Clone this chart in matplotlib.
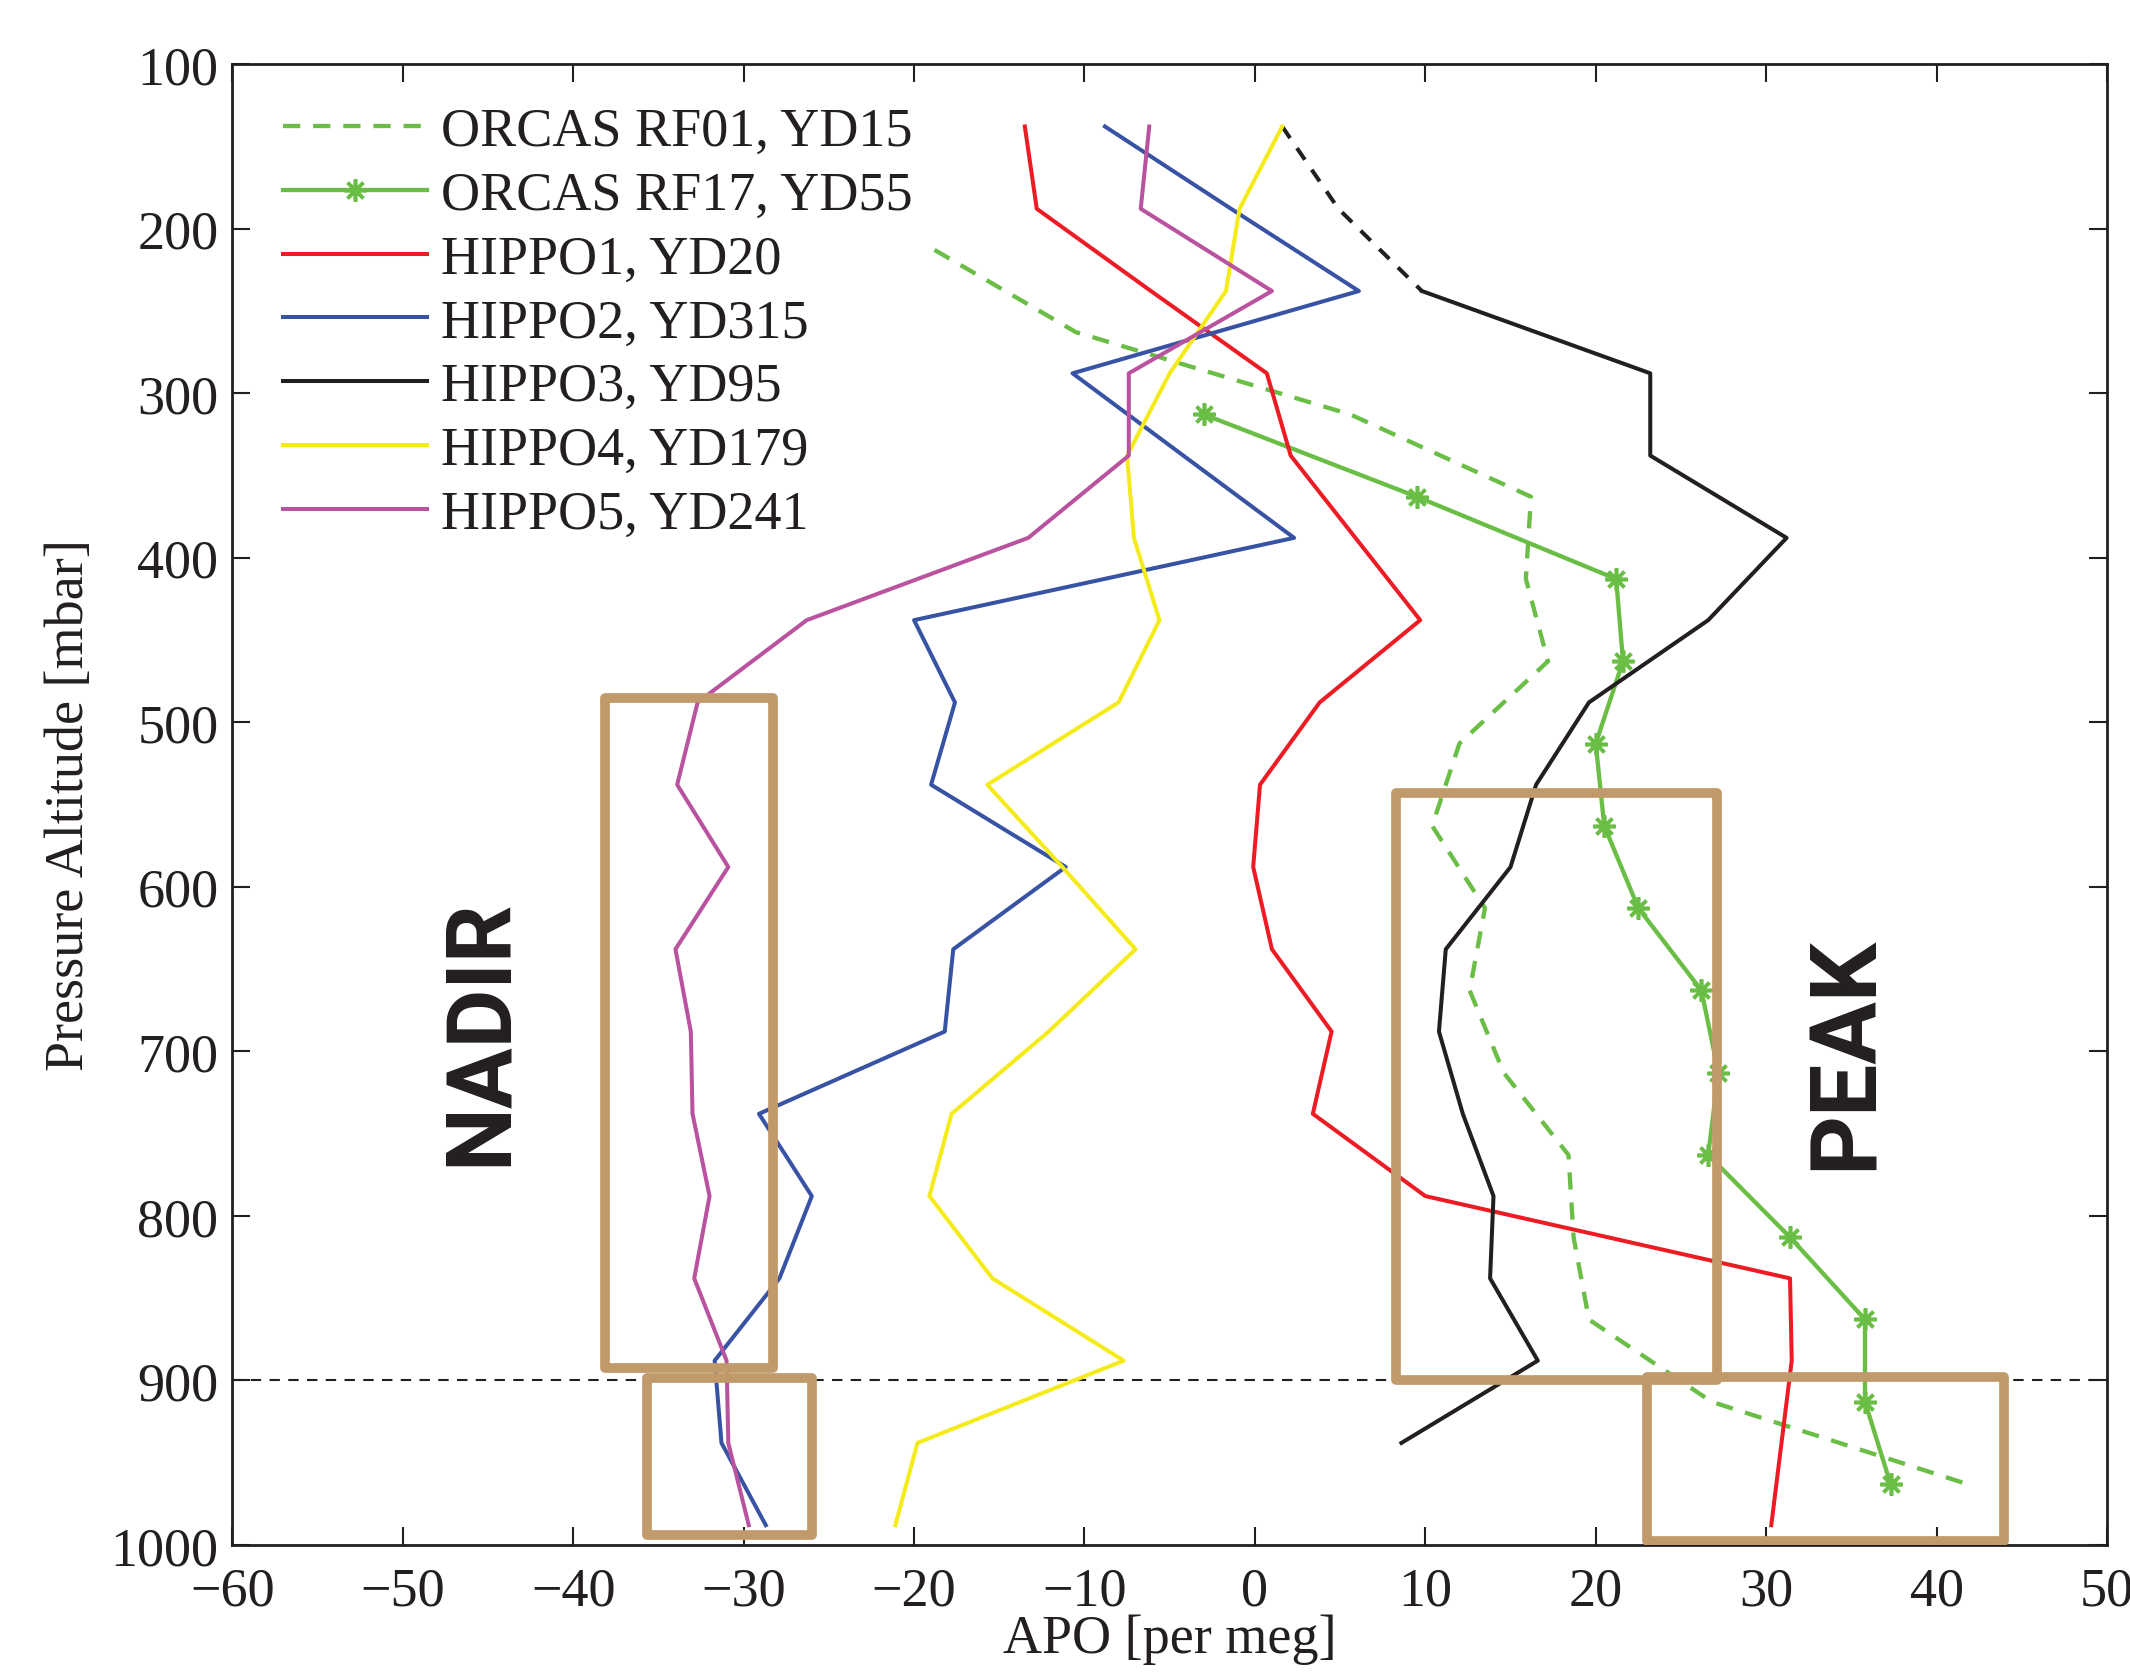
import matplotlib.pyplot as plt
from matplotlib.patches import Rectangle

plt.rcParams['font.family'] = ['Liberation Serif', 'DejaVu Serif']

# --- pressure levels [mbar] ---
p_hippo = [138, 188, 238, 288, 338, 388, 438, 488, 538, 588,
           638, 688, 738, 788, 838, 888, 938, 988]
p_hippo3 = [238, 288, 338, 388, 438, 488, 538, 588, 638, 688,
            738, 788, 838, 888, 938]
p_hippo3_top = [138, 188, 238]
p_rf01 = [213, 263, 313, 363, 413, 463, 513, 563, 613, 663,
          713, 763, 813, 863, 913, 963]
p_rf17 = [313, 363, 413, 463, 513, 563, 613, 663, 713, 763,
          813, 863, 913, 963]

# --- APO [per meg] ---
apo_rf01 = [-18.8, -10.5, 5.6, 16.2, 15.9, 17.2, 12.0, 10.4, 13.5, 12.6,
            14.6, 18.4, 18.7, 19.6, 26.8, 41.8]
apo_rf17 = [-3.0, 9.5, 21.2, 21.6, 20.0, 20.5, 22.5, 26.2, 27.2, 26.6,
            31.4, 35.8, 35.8, 37.3]
apo_hippo1 = [-13.5, -12.8, -6.1, 0.7, 2.1, 5.9, 9.7, 3.8, 0.3, -0.1,
              1.0, 4.5, 3.4, 10.0, 31.4, 31.5, 30.9, 30.3]
apo_hippo2 = [-8.8, -1.4, 6.1, -10.7, -4.2, 2.3, -20.0, -17.6, -19.0, -11.1,
              -17.7, -18.2, -29.1, -26.0, -27.9, -31.7, -31.3, -28.7]
apo_hippo3 = [9.8, 23.2, 23.2, 31.2, 26.6, 19.6, 16.5, 15.0, 11.2, 10.8,
              12.2, 14.0, 13.8, 16.6, 8.6]
apo_hippo3_top = [1.6, 4.9, 9.8]
apo_hippo4 = [1.6, -0.9, -1.7, -5.0, -7.5, -7.1, -5.6, -8.0, -15.7, -11.3,
              -7.0, -12.1, -17.8, -19.1, -15.4, -7.7, -19.8, -21.1]
apo_hippo5 = [-6.2, -6.7, 1.0, -7.4, -7.4, -13.3, -26.3, -32.7, -33.9, -30.9,
              -34.0, -33.1, -33.0, -32.0, -32.9, -31.0, -30.9, -29.7]

# --- highlight boxes: (APO min, APO max, p top, p bottom) ---
boxes = [(-38.15, -28.25, 485.5, 892.6),
         (-35.7, -26.0, 898.8, 994.0),
         (8.3, 27.1, 543.0, 900.0),
         (23.0, 43.95, 898.0, 997.4)]

green = '#6ABD45'
red = '#ED1C24'
blue = '#3853A4'
black = '#231F20'
yellow = '#F5EB1A'
magenta = '#B9529F'
tan = '#C19A6B'

fig = plt.figure(figsize=(21.30, 16.74), dpi=100)
ax = fig.add_axes([0.1091, 0.0765, 0.8801, 0.8847])

lw = 2.9
ax.plot(apo_rf01, p_rf01, color=green, lw=3.1, linestyle=(0, (4, 3)),
        label='ORCAS RF01, YD15')
ax.plot(apo_rf17, p_rf17, color=green, lw=3.1, marker=(8, 2, 0),
        markersize=16, markeredgewidth=2.6, label='ORCAS RF17, YD55')
ax.plot(apo_hippo1, p_hippo, color=red, lw=lw, label='HIPPO1, YD20')
ax.plot(apo_hippo2, p_hippo, color=blue, lw=lw, label='HIPPO2, YD315')
ax.plot(apo_hippo3, p_hippo3, color=black, lw=lw, label='HIPPO3, YD95')
ax.plot(apo_hippo3_top, p_hippo3_top, color=black, lw=lw, linestyle=(0, (3.5, 3)))
ax.plot(apo_hippo4, p_hippo, color=yellow, lw=lw, label='HIPPO4, YD179')
ax.plot(apo_hippo5, p_hippo, color=magenta, lw=lw, label='HIPPO5, YD241')

# boundary layer top
ax.axhline(900, color=black, lw=1.5, linestyle=(0, (5, 4)), zorder=1)

for x0, x1, y0, y1 in boxes:
    ax.add_patch(Rectangle((x0, y0), x1 - x0, y1 - y0, fill=False,
                           edgecolor=tan, lw=7, joinstyle='round', zorder=5))

ax.text(-45.4, 688, 'NADIR', rotation=90, ha='center', va='center',
        family='Roboto', fontweight='bold', fontsize=65, color=black)
ax.text(34.7, 700.6, 'PEAK', rotation=90, ha='center', va='center',
        family='Roboto', fontweight='bold', fontsize=67, color=black)

ax.set_xlim(-60, 50)
ax.set_ylim(1000, 100)
ax.set_xticks(range(-60, 51, 10))
ax.set_yticks(range(100, 1001, 100))
ax.tick_params(direction='in', length=13, width=1.5, top=True, right=True,
               labelsize=39, colors=black)
ax.tick_params(axis='x', pad=15)
ax.tick_params(axis='y', pad=10)
for s in ax.spines.values():
    s.set_linewidth(2)
    s.set_color(black)

ax.set_xlabel('APO [per meg]', fontsize=39, color=black)
ax.set_ylabel('Pressure Altitude [mbar]', fontsize=39, color=black)
ax.xaxis.set_label_coords(0.5, -0.046)
ax.yaxis.set_label_coords(-0.0734, 0.5)

ax.legend(loc='upper left', bbox_to_anchor=(0.027, 0.9712), frameon=False,
          fontsize=39, borderpad=0, borderaxespad=0, handlelength=2.65,
          handletextpad=0.26, labelspacing=0.245, labelcolor=black)

fig.savefig('out.png', dpi=100)
